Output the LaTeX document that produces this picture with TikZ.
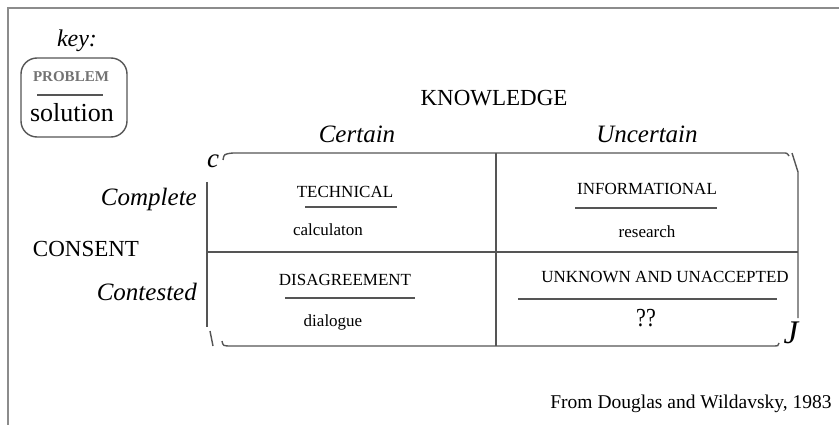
\documentclass[tikz,border=0pt]{standalone}
\usepackage{fontspec}
\setmainfont{Liberation Serif}
\usetikzlibrary{positioning}
\definecolor{rulegray}{HTML}{555555}
\definecolor{framegray}{HTML}{8C8C8C}

\begin{document}
\begin{tikzpicture}[
    x=1pt, y=-1pt,
    txt/.style={anchor=base, inner sep=0pt},
    cell/.style={txt, font=\fontsize{17}{20}\selectfont},
    axis/.style={txt, font=\fontsize{25}{30}\selectfont\itshape},
    heading/.style={txt, font=\fontsize{23}{28}\selectfont},
    rule/.style={draw=rulegray, line width=1.4pt},
]
\useasboundingbox (0,0) rectangle (839,425);

% frame, only the left and top edges show
\draw[framegray, line width=2pt] (8,425) -- (8,8) -- (839,8);

% key
\node[rule, rounded corners=16pt, minimum width=106pt, minimum height=79pt] (keybox) at (74,97.5) {};
\node[txt, font=\fontsize{24}{28}\selectfont\itshape] (keylabel) at (77,47) {key:};
\node[txt, font=\fontsize{15}{18}\selectfont\bfseries, text=black!55] (keyproblem) at (71,82) {PROBLEM};
\draw[rule] (37,95) -- (103,95);
\node[txt, font=\fontsize{26}{30}\selectfont] (keysolution) at (72,122) {solution};

% axis headings
\node[heading] (knowledge) at (494,106) {KNOWLEDGE};
\node[axis] (certain) at (357,143) {Certain};
\node[axis] (uncertain) at (647,143) {Uncertain};
\node[heading] (consent) at (86,257) {CONSENT};
\node[axis, anchor=base east] (complete) at (197,206) {Complete};
\node[axis, anchor=base east] (contested) at (197,301) {Contested};

% the grid
\draw[rule] (223,160) .. controls (224,154) .. (233,153) -- (783,153) .. controls (787,153) .. (789,156);
\draw[rule] (792,153) -- (798,172) -- (798,318);
\draw[rule] (207,182) -- (207,327);
\draw[rule] (210,331) -- (213,346);
\draw[rule] (222,341) .. controls (223,346) .. (232,346) -- (775,346) .. controls (778,346) .. (779,343);
\draw[rule] (496,153) -- (496,346);
\draw[rule] (207,252) -- (798,252);
\node[axis, font=\fontsize{27}{30}\selectfont\itshape] (cmark) at (213,168) {c};
\node[axis, font=\fontsize{33}{36}\selectfont\itshape] (jmark) at (791,343) {J};

% cells
\node[cell] (technical) at (345,198) {TECHNICAL};
\draw[rule] (305,207) -- (397,207);
\node[cell] (calc) at (328,236) {calculaton};

\node[cell] (informational) at (647,195) {INFORMATIONAL};
\draw[rule] (575,208) -- (717,208);
\node[cell] (research) at (647,237) {research};

\node[cell] (disagreement) at (345,286) {DISAGREEMENT};
\draw[rule] (285,298) -- (415,298);
\node[cell] (dialogue) at (333,326) {dialogue};

\node[cell] (unknown) at (665,283) {UNKNOWN AND UNACCEPTED};
\draw[rule] (518,299) -- (777,299);
\node[cell, font=\fontsize{26}{28}\selectfont, xscale=0.85] (query) at (646,326) {??};

% source
\node[txt, font=\fontsize{19.5}{22}\selectfont] (source) at (691,408) {From Douglas and Wildavsky, 1983};

\end{tikzpicture}
\end{document}
